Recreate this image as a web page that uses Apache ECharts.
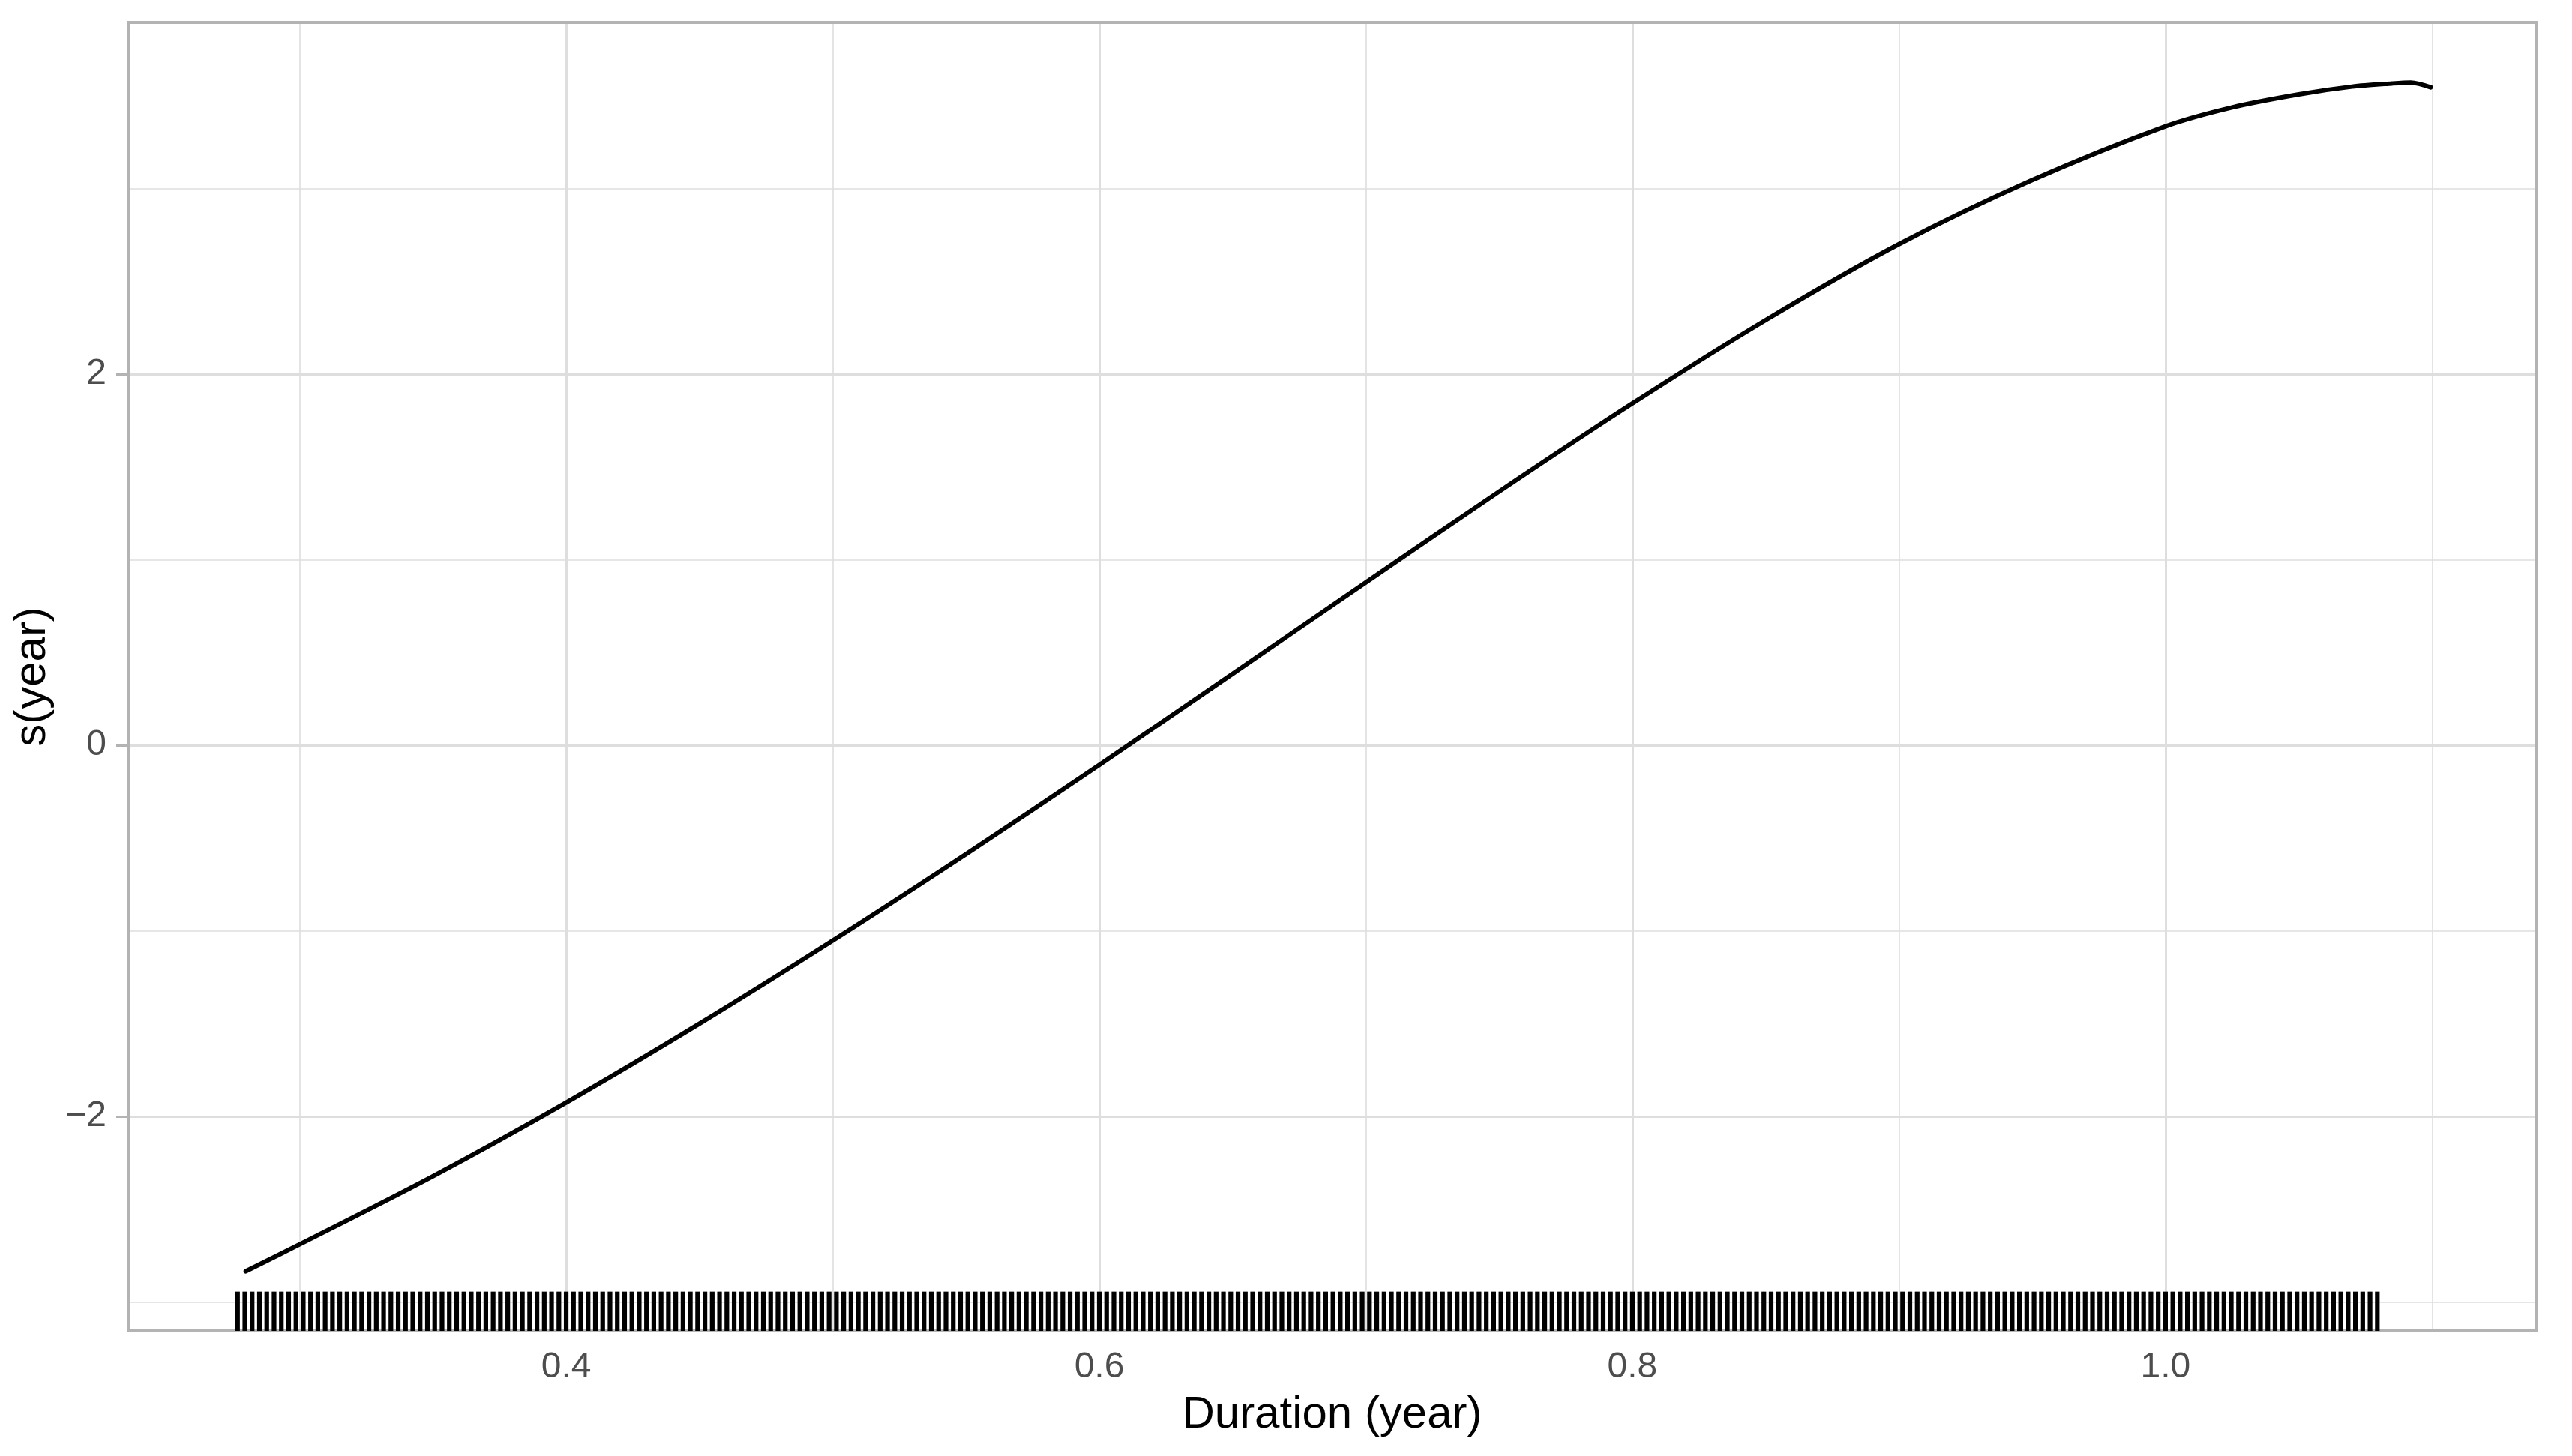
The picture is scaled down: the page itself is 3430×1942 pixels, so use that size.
<!DOCTYPE html>
<html>
<head>
<meta charset="utf-8">
<script src="https://cdn.jsdelivr.net/npm/echarts@6/dist/echarts.min.js"></script>
<style>
html,body{margin:0;padding:0;background:#fff;}
#c{width:3430px;height:1942px;}
</style>
</head>
<body>
<div id="c"></div>
<script>
// Smooth term curve s(year)
const curveX = [0.2798, 0.30, 0.35, 0.40, 0.45, 0.50, 0.55, 0.60, 0.65, 0.70, 0.75, 0.80, 0.85, 0.90, 0.95, 1.00, 1.025, 1.05, 1.07, 1.085, 1.092, 1.0995];
const curveY = [-2.835, -2.69, -2.323, -1.926, -1.501, -1.053, -0.587, -0.106, 0.385, 0.878, 1.367, 1.842, 2.291, 2.70, 3.045, 3.335, 3.437, 3.507, 3.549, 3.566, 3.571, 3.545];

// Rug: observation durations, in days (duration in years = day / 365)
const rugDays = [
101,102,103,104,105,106,107,108,109,110,
111,112,113,114,115,116,117,118,119,120,
121,122,123,124,125,126,127,128,129,130,
131,132,133,134,135,136,137,138,139,140,
141,142,143,144,145,146,147,148,149,150,
151,152,153,154,155,156,157,158,159,160,
161,162,163,164,165,166,167,168,169,170,
171,172,173,174,175,176,177,178,179,180,
181,182,183,184,185,186,187,188,189,190,
191,192,193,194,195,196,197,198,199,200,
201,202,203,204,205,206,207,208,209,210,
211,212,213,214,215,216,217,218,219,220,
221,222,223,224,225,226,227,228,229,230,
231,232,233,234,235,236,237,238,239,240,
241,242,243,244,245,246,247,248,249,250,
251,252,253,254,255,256,257,258,259,260,
261,262,263,264,265,266,267,268,269,270,
271,272,273,274,275,276,277,278,279,280,
281,282,283,284,285,286,287,288,289,290,
291,292,293,294,295,296,297,298,299,300,
301,302,303,304,305,306,307,308,309,310,
311,312,313,314,315,316,317,318,319,320,
321,322,323,324,325,326,327,328,329,330,
331,332,333,334,335,336,337,338,339,340,
341,342,343,344,345,346,347,348,349,350,
351,352,353,354,355,356,357,358,359,360,
361,362,363,364,365,366,367,368,369,370,
371,372,373,374,375,376,377,378,379,380,
381,382,383,384,385,386,387,388,389,390,
391,392,393,394
];
const daysPerYear = 365;

// Axes
const xRange = [0.2357, 1.139];
const yRange = [-3.156, 3.895];
const xMajorTicks = [0.4, 0.6, 0.8, 1.0];
const xTickLabels = ['0.4', '0.6', '0.8', '1.0'];
const xMinorTicks = [0.3, 0.5, 0.7, 0.9, 1.1];
const yMajorTicks = [-2, 0, 2];
const yTickLabels = ['\u22122', '0', '2'];
const yMinorTicks = [-3, -1, 1, 3];
const xTitle = 'Duration (year)';
const yTitle = 's(year)';

const FONT = '"Liberation Sans", Arial, Helvetica, sans-serif';
const chart = echarts.init(document.getElementById('c'), null, {renderer: 'canvas'});

const curveData = curveX.map((x, i) => [x, curveY[i]]);
const rugData = rugDays.map(d => [d / daysPerYear]);

function gridLines(vals, key, width) {
  return vals.map(v => ({[key]: v, lineStyle: {color: '#DEDEDE', width: width, type: 'solid'}}));
}

const option = {
  animation: false,
  backgroundColor: '#ffffff',
  grid: {left: 171, right: 48, top: 30, bottom: 167, show: true, borderColor: '#B3B3B3', borderWidth: 4, backgroundColor: 'transparent', z: 10},
  xAxis: {
    type: 'value', min: xRange[0], max: xRange[1],
    axisLine: {show: false},
    splitLine: {show: false},
    axisTick: {show: true, customValues: xMajorTicks, length: 16, lineStyle: {color: '#B3B3B3', width: 3}},
    axisLabel: {show: true, customValues: xMajorTicks, margin: 25, color: '#4D4D4D', fontSize: 48, fontFamily: FONT,
      formatter: v => { const i = xMajorTicks.findIndex(t => Math.abs(t - v) < 1e-9); return i >= 0 ? xTickLabels[i] : ''; }},
    name: xTitle, nameLocation: 'middle', nameGap: 82,
    nameTextStyle: {color: '#000', fontSize: 60, fontFamily: FONT}
  },
  yAxis: {
    type: 'value', min: yRange[0], max: yRange[1],
    axisLine: {show: false},
    splitLine: {show: false},
    axisTick: {show: true, customValues: yMajorTicks, length: 16, lineStyle: {color: '#B3B3B3', width: 3}},
    axisLabel: {show: true, customValues: yMajorTicks, margin: 29, color: '#4D4D4D', fontSize: 48, fontFamily: FONT,
      formatter: v => { const i = yMajorTicks.findIndex(t => Math.abs(t - v) < 1e-9); return i >= 0 ? yTickLabels[i] : ''; }},
    name: yTitle, nameLocation: 'middle', nameGap: 98,
    nameTextStyle: {color: '#000', fontSize: 60, fontFamily: FONT}
  },
  series: [
    {
      type: 'line', data: [], silent: true, z: 1,
      markLine: {
        silent: true, z: 1, symbol: ['none', 'none'], label: {show: false}, animation: false,
        emphasis: {disabled: true},
        data: [].concat(
          gridLines(xMinorTicks, 'xAxis', 1.6),
          gridLines(yMinorTicks, 'yAxis', 1.6),
          gridLines(xMajorTicks, 'xAxis', 3),
          gridLines(yMajorTicks, 'yAxis', 3)
        )
      }
    },
    {
      type: 'custom', data: rugData, z: 15, silent: true, clip: true,
      renderItem: function (params, api) {
        const cs = params.coordSys;
        const x = api.coord([api.value(0), yRange[0]])[0];
        const yb = cs.y + cs.height;
        return {type: 'line', shape: {x1: x, y1: yb, x2: x, y2: yb - cs.height * 0.03},
          style: {stroke: '#000000', lineWidth: 6.2, lineCap: 'butt'}};
      }
    },
    {
      type: 'line', data: curveData, z: 20, smooth: 0.3, symbol: 'none', silent: true, clip: true,
      lineStyle: {color: '#000000', width: 6, cap: 'round', join: 'round'}
    }
  ]
};
chart.setOption(option);
</script>
</body>
</html>
